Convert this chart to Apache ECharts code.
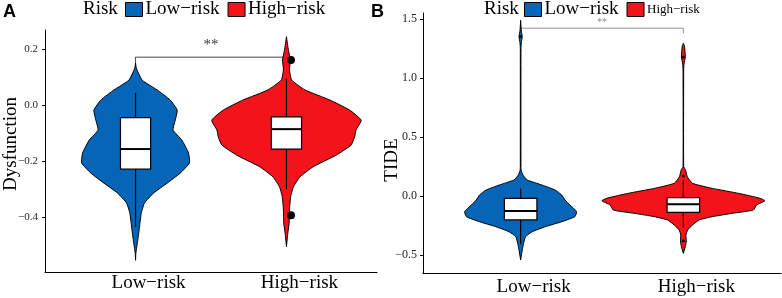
<!DOCTYPE html>
<html>
<head>
<meta charset="utf-8">
<script src="https://cdn.jsdelivr.net/npm/echarts@6/dist/echarts.min.js"></script>
<style>
html,body{margin:0;padding:0;background:#fff;}
#main{width:782px;height:298px;}
</style>
</head>
<body>
<div id="main"></div>
<script>
var categories = ['Low\u2212risk', 'High\u2212risk'];
var lowColor = '#0765B8';
var highColor = '#F2141A';

// panel A: Dysfunction, violin outline as value / half width (in category units)
var dysLowVals = [0.15, 0.132, 0.089, 0.054, 0.018, -0.018, -0.054, -0.089, -0.125, -0.171, -0.207, -0.243, -0.279, -0.314, -0.35, -0.386, -0.436, -0.482, -0.529, -0.554];
var dysLowDens = [0, 0.005, 0.044, 0.143, 0.230, 0.276, 0.263, 0.248, 0.307, 0.351, 0.357, 0.296, 0.209, 0.120, 0.059, 0.038, 0.026, 0.015, 0.002, 0];
var dysHighVals = [0.244, 0.196, 0.161, 0.125, 0.089, 0.054, 0.018, -0.018, -0.054, -0.089, -0.113, -0.143, -0.179, -0.220, -0.256, -0.292, -0.327, -0.375, -0.421, -0.457, -0.506];
var dysHighDens = [0, 0.013, 0.026, 0.020, 0.035, 0.123, 0.288, 0.419, 0.495, 0.461, 0.452, 0.428, 0.329, 0.178, 0.090, 0.046, 0.028, 0.020, 0.018, 0.009, 0];
// x, lower whisker, q1, median, q3, upper whisker
var dysBox = [[1, -0.435, -0.229, -0.157, -0.045, 0.044], [2, -0.30, -0.157, -0.086, -0.042, 0.095]];
var dysOutliers = [[2.03, 0.161], [2.03, -0.393]];
var dysTicks = [-0.4, -0.2, 0, 0.2];
var dysSig = {y: 0.171, lowEnd: 0.13, highEnd: 0.15, label: 0.214};

// panel B: TIDE
var tideLowVals = [1.49, 1.40, 1.353, 1.30, 1.25, 0.25, 0.22, 0.178, 0.136, 0.093, 0.051, 0.008, -0.034, -0.076, -0.133, -0.175, -0.218, -0.26, -0.303, -0.345, -0.401, -0.458, -0.542];
var tideLowDens = [0, 0.004, 0.010, 0.004, 0.002, 0.002, 0.003, 0.014, 0.041, 0.132, 0.212, 0.253, 0.273, 0.303, 0.344, 0.333, 0.253, 0.152, 0.071, 0.030, 0.018, 0.010, 0];
var tideHighVals = [1.297, 1.27, 1.18, 1.12, 1.07, 0.25, 0.22, 0.164, 0.108, 0.065, 0.023, -0.019, -0.04, -0.076, -0.119, -0.147, -0.175, -0.203, -0.246, -0.288, -0.331, -0.381, -0.43, -0.486];
var tideHighDens = [0, 0.007, 0.012, 0.004, 0.002, 0.002, 0.014, 0.024, 0.056, 0.178, 0.339, 0.471, 0.501, 0.450, 0.430, 0.299, 0.178, 0.097, 0.056, 0.026, 0.016, 0.018, 0.012, 0];
var tideBox = [[1, -0.41, -0.203, -0.127, -0.02, 0.065], [2, -0.27, -0.138, -0.07, -0.014, 0.136]];
var tideOutliers = [[1, 1.353], [2, 1.18], [2, 0.17], [2, -0.38]];
var tideTicks = [-0.5, 0, 0.5, 1, 1.5];
var tideSig = {y: 1.424, lowEnd: 1.49, highEnd: 1.38, label: 1.47};

var serif = 'Liberation Serif';
var boxHalf = 0.1;

function violin(vals, dens) {
	return function(params, api) {
		var cx = api.value(0);
		var pts = [];
		for (var i = 0; i < vals.length; i++) {
			pts.push(api.coord([cx - dens[i], vals[i]]));
		}
		for (var j = vals.length - 1; j >= 0; j--) {
			pts.push(api.coord([cx + dens[j], vals[j]]));
		}
		return {
			type: 'polygon',
			shape: {points: pts, smooth: 0.15},
			style: {fill: api.visual('color'), stroke: '#000', lineWidth: 1}
		};
	};
}

function boxItem(params, api) {
	var x = api.value(0);
	var lo = api.coord([x, api.value(1)]);
	var hi = api.coord([x, api.value(5)]);
	var q1l = api.coord([x - boxHalf, api.value(2)]);
	var q3r = api.coord([x + boxHalf, api.value(4)]);
	var ml = api.coord([x - boxHalf, api.value(3)]);
	var mr = api.coord([x + boxHalf, api.value(3)]);
	return {
		type: 'group',
		children: [
			{type: 'line', shape: {x1: lo[0], y1: lo[1], x2: hi[0], y2: hi[1]}, style: {stroke: '#000', lineWidth: 1.2}},
			{type: 'rect', shape: {x: q1l[0], y: q3r[1], width: q3r[0] - q1l[0], height: q1l[1] - q3r[1]}, style: {fill: '#fff', stroke: '#000', lineWidth: 1.2}},
			{type: 'line', shape: {x1: ml[0], y1: ml[1], x2: mr[0], y2: mr[1]}, style: {stroke: '#000', lineWidth: 2}}
		]
	};
}

function bracket(sig, color, fontSize) {
	return function(params, api) {
		var a = api.coord([1, sig.lowEnd]);
		var b = api.coord([1, sig.y]);
		var c = api.coord([2, sig.y]);
		var d = api.coord([2, sig.highEnd]);
		var t = api.coord([1.5, sig.label]);
		return {
			type: 'group',
			children: [
				{type: 'polyline', shape: {points: [a, b, c, d]}, style: {stroke: color, lineWidth: 0.9, fill: null}},
				{type: 'text', x: t[0], y: t[1], style: {text: '**', fill: color, font: fontSize + 'px ' + serif, align: 'center', verticalAlign: 'middle'}}
			]
		};
	};
}

function fmtTick(v) {
	return v.toFixed(1).replace('-', '\u2212');
}

function xAxisOf(grid, margin) {
	return {
		gridIndex: grid, type: 'value', min: 0.4, max: 2.6,
		axisLine: {onZero: false, lineStyle: {color: '#000', width: 1}},
		axisTick: {show: false},
		splitLine: {show: false},
		axisLabel: {
			customValues: [1, 2],
			formatter: function(v) { return categories[Math.round(v) - 1]; },
			color: '#000', fontFamily: serif, fontSize: 19, margin: margin,
			padding: [0, 0, 0, 26]
		}
	};
}

function yAxisOf(grid, min, max, ticks, fs, margin) {
	return {
		gridIndex: grid, type: 'value', min: min, max: max,
		axisLine: {show: true, onZero: false, lineStyle: {color: '#000', width: 1}},
		axisTick: {show: true, customValues: ticks, length: 3, lineStyle: {color: '#000'}},
		splitLine: {show: false},
		axisLabel: {customValues: ticks, formatter: fmtTick, color: '#222', fontFamily: serif, fontSize: fs, margin: margin}
	};
}

var chart = echarts.init(document.getElementById('main'));
var option = {
	animation: false,
	backgroundColor: '#fff',
	grid: [
		{left: 45, top: 30, width: 332, height: 242},
		{left: 423, top: 13, width: 358, height: 260}
	],
	xAxis: [xAxisOf(0, 2), xAxisOf(1, 5)],
	yAxis: [
		yAxisOf(0, -0.596, 0.268, dysTicks, 11, 7),
		yAxisOf(1, -0.653, 1.553, tideTicks, 12, 6)
	],
	legend: [
		{
			left: 125, top: 0, padding: 0, icon: 'rect', itemWidth: 17, itemHeight: 14, itemGap: 8,
			itemStyle: {borderColor: '#000', borderWidth: 1},
			textStyle: {fontFamily: serif, fontSize: 19, color: '#000', padding: [0, 0, 0, -2]},
			data: categories
		},
		{
			left: 524, top: 0, padding: 0, icon: 'rect', itemWidth: 17, itemHeight: 14, itemGap: 8,
			itemStyle: {borderColor: '#000', borderWidth: 1},
			textStyle: {fontFamily: serif, color: '#000', padding: [0, 0, 0, -2]},
			data: [
				{name: categories[0], textStyle: {fontSize: 19}},
				{name: categories[1], textStyle: {fontSize: 13}}
			]
		}
	],
	graphic: [
		{type: 'text', left: 3, top: 3, style: {text: 'A', font: 'bold 18px "Liberation Sans"', fill: '#000'}},
		{type: 'text', left: 371, top: 3, style: {text: 'B', font: 'bold 18px "Liberation Sans"', fill: '#000'}},
		{type: 'text', left: 83, top: 0, style: {text: 'Risk', font: '19px "Liberation Serif"', fill: '#000'}},
		{type: 'text', left: 484, top: 0, style: {text: 'Risk', font: '19px "Liberation Serif"', fill: '#000'}},
		{type: 'text', x: 11, y: 144, rotation: Math.PI / 2, style: {text: 'Dysfunction', font: '19px "Liberation Serif"', fill: '#000', align: 'center', verticalAlign: 'middle'}},
		{type: 'text', x: 392, y: 160, rotation: Math.PI / 2, style: {text: 'TIDE', font: '19px "Liberation Serif"', fill: '#000', align: 'center', verticalAlign: 'middle'}}
	],
	series: [
		{name: categories[0], type: 'custom', xAxisIndex: 0, yAxisIndex: 0, itemStyle: {color: lowColor}, renderItem: violin(dysLowVals, dysLowDens), data: [[1, 0]]},
		{name: categories[1], type: 'custom', xAxisIndex: 0, yAxisIndex: 0, itemStyle: {color: highColor}, renderItem: violin(dysHighVals, dysHighDens), data: [[2, 0]]},
		{type: 'custom', xAxisIndex: 0, yAxisIndex: 0, renderItem: boxItem, data: dysBox, z: 3},
		{type: 'scatter', xAxisIndex: 0, yAxisIndex: 0, symbolSize: 8, itemStyle: {color: '#000', opacity: 1}, data: dysOutliers, z: 4},
		{type: 'custom', xAxisIndex: 0, yAxisIndex: 0, renderItem: bracket(dysSig, '#333', 15), data: [[1.5, 0]], z: 1},

		{name: categories[0], type: 'custom', xAxisIndex: 1, yAxisIndex: 1, itemStyle: {color: lowColor}, renderItem: violin(tideLowVals, tideLowDens), data: [[1, 0]]},
		{name: categories[1], type: 'custom', xAxisIndex: 1, yAxisIndex: 1, itemStyle: {color: highColor}, renderItem: violin(tideHighVals, tideHighDens), data: [[2, 0]]},
		{type: 'custom', xAxisIndex: 1, yAxisIndex: 1, renderItem: boxItem, data: tideBox, z: 3},
		{type: 'scatter', xAxisIndex: 1, yAxisIndex: 1, symbolSize: 3, itemStyle: {color: '#000', opacity: 1}, data: tideOutliers, z: 4},
		{type: 'custom', xAxisIndex: 1, yAxisIndex: 1, renderItem: bracket(tideSig, '#888', 10), data: [[1.5, 0]], z: 1}
	]
};
chart.setOption(option);
window.addEventListener('resize', function() {
	chart.resize();
});
</script>
</body>
</html>
